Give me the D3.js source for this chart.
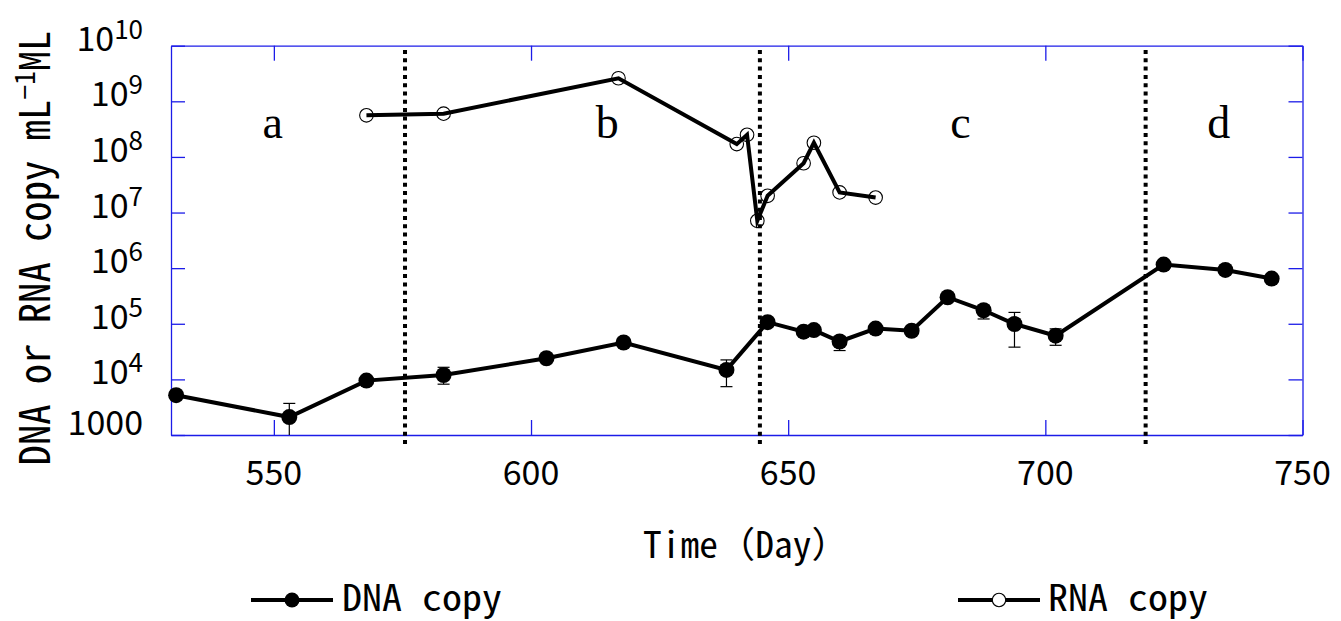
<!DOCTYPE html>
<html><head><meta charset="utf-8">
<script src="https://cdn.jsdelivr.net/npm/d3@7"></script>
<style>body{margin:0;background:#fff} svg{display:block}</style>
</head><body><svg id="c" width="1341" height="621"></svg>
<script>
// ---- data ----
const dnaDays   = [531, 553, 568, 583, 603, 618, 638, 646, 653, 655, 660, 667, 674, 681, 688, 694, 702, 723, 735, 744];
const dnaValues = [5200, 2100, 9500, 12000, 24000, 46000, 14800, 107000, 72000, 77000, 48000, 82000, 75000, 300000, 175000, 99000, 61000, 1160000, 930000, 650000];
const errDays   = [553, 583, 638, 660, 688, 694, 702, 723];
const errLow    = [1000, 8200, 7400, 33000, 122000, 38000, 41000, 960000];
const errHigh   = [3700, 16500, 22400, 59000, 215000, 160000, 81000, 1300000];
const rnaDays   = [568, 583, 617, 640, 642, 644, 646, 653, 655, 660, 667];
const rnaValues = [5.6e8, 6.0e8, 2.6e9, 1.7e8, 2.5e8, 7.1e6, 2.0e7, 7.7e7, 1.8e8, 2.3e7, 1.86e7];
const xTicks = [550, 600, 650, 700, 750];
const yTickExps = [3, 4, 5, 6, 7, 8, 9, 10];
const boundaryDays = [575.5, 644.5, 719.5];
const periodLabels = ["a", "b", "c", "d"];
const periodLabelDays = [549.8, 614.8, 683.5, 733.7];
const seriesNames = ["DNA copy", "RNA copy"];
const xTitle = "Time\uFF08Day\uFF09";

// ---- layout ----
const L = 171, R = 1302.5, T = 45.7, B = 435;
const FONT = "'Noto Sans CJK JP', 'Noto Sans', sans-serif";
const MONO = "'Noto Sans Mono CJK JP', 'Noto Sans CJK JP', 'DejaVu Sans Mono', monospace";
const AXC = "#1c1ce8";
const svg = d3.select("#c");
const x = d3.scaleLinear().domain([530, 750]).range([L, R]);
const y = d3.scaleLog().domain([1e3, 1e10]).range([B, T]);

function styleAxis(g) {
  g.selectAll("path.domain").attr("stroke", AXC).attr("stroke-width", 1.3);
  g.selectAll(".tick line").attr("stroke", AXC).attr("stroke-width", 1.3);
  g.selectAll(".tick text").remove();
}
svg.append("g").attr("transform", `translate(0,${B})`)
  .call(d3.axisBottom(x).tickValues(xTicks).tickSizeInner(-15).tickSizeOuter(0).tickFormat("")).call(styleAxis);
svg.append("g").attr("transform", `translate(0,${T})`)
  .call(d3.axisTop(x).tickValues(xTicks).tickSizeInner(-15).tickSizeOuter(0).tickFormat("")).call(styleAxis);
svg.append("g").attr("transform", `translate(${L},0)`)
  .call(d3.axisLeft(y).tickValues(yTickExps.map(e => Math.pow(10, e))).tickSizeInner(-14).tickSizeOuter(0).tickFormat("")).call(styleAxis);
svg.append("g").attr("transform", `translate(${R},0)`)
  .call(d3.axisRight(y).tickValues(yTickExps.map(e => Math.pow(10, e))).tickSizeInner(-14).tickSizeOuter(0).tickFormat("")).call(styleAxis);

// x tick labels
svg.append("g").selectAll("text").data(xTicks).join("text")
  .attr("x", d => x(d)).attr("y", 485)
  .attr("text-anchor", "middle").attr("font-family", FONT).attr("font-size", 34)
  .text(d => d);

// y tick labels
const yl = svg.append("g").selectAll("text").data(yTickExps).join("text")
  .attr("x", 143).attr("y", d => y(Math.pow(10, d)) + (d === 3 ? 0 : 5))
  .attr("text-anchor", "end").attr("font-family", FONT).attr("font-size", 34);
yl.each(function(d) {
  const t = d3.select(this);
  if (d === 3) { t.text("1000"); return; }
  t.append("tspan").text("10");
  t.append("tspan").attr("font-size", 26).attr("dy", -12).text(d);
});

// fit helper
function fit(sel, w) {
  const len = sel.node().getComputedTextLength();
  sel.attr("transform", `scale(${w / len},1)`);
}

// y title
const yt = svg.append("g").attr("transform", "translate(50,248) rotate(-90)")
  .append("text").attr("text-anchor", "middle").attr("font-family", MONO).attr("font-size", 42);
yt.append("tspan").text("DNA or RNA copy mL");
yt.append("tspan").attr("font-size", 28).attr("dy", -15).text("\u22121");
yt.append("tspan").attr("dy", 15).text("ML");
fit(yt, 435);

// x title
const xt = svg.append("g").attr("transform", "translate(643,558)")
  .append("text").attr("font-family", MONO).attr("font-size", 36).text(xTitle);
fit(xt, 206);

// boundaries
svg.append("g").selectAll("line").data(boundaryDays).join("line")
  .attr("x1", d => x(d)).attr("x2", d => x(d)).attr("y1", 50).attr("y2", 444)
  .attr("stroke", "#000").attr("stroke-width", 4).attr("stroke-dasharray", "4,4.3");

// period labels
svg.append("g").selectAll("text").data(periodLabels).join("text")
  .attr("x", (d, i) => x(periodLabelDays[i])).attr("y", 138)
  .attr("text-anchor", "middle").attr("font-family", "'Liberation Serif', 'Times New Roman', serif")
  .attr("font-size", 46).text(d => d);

const line = d3.line().x(d => x(d[0])).y(d => y(d[1]));
const dna = dnaDays.map((d, i) => [d, dnaValues[i]]);
const rna = rnaDays.map((d, i) => [d, rnaValues[i]]);

// error bars
const eg = svg.append("g").attr("stroke", "#000").attr("stroke-width", 1.2);
errDays.forEach((d, i) => {
  const cx = x(d), y1 = y(errLow[i]), y2 = y(errHigh[i]);
  eg.append("line").attr("x1", cx).attr("x2", cx).attr("y1", y1).attr("y2", y2);
  eg.append("line").attr("x1", cx - 6).attr("x2", cx + 6).attr("y1", y2).attr("y2", y2);
  if (errLow[i] > 1000) eg.append("line").attr("x1", cx - 6).attr("x2", cx + 6).attr("y1", y1).attr("y2", y1);
});

svg.append("path").attr("d", line(dna)).attr("fill", "none").attr("stroke", "#000").attr("stroke-width", 4);
svg.append("g").selectAll("circle").data(dna).join("circle")
  .attr("cx", d => x(d[0])).attr("cy", d => y(d[1])).attr("r", 8).attr("fill", "#000");

svg.append("path").attr("d", line(rna)).attr("fill", "none").attr("stroke", "#000").attr("stroke-width", 4);
svg.append("g").selectAll("circle").data(rna).join("circle")
  .attr("cx", d => x(d[0])).attr("cy", d => y(d[1])).attr("r", 6.8)
  .attr("fill", "none").attr("stroke", "#000").attr("stroke-width", 1.1);

// legend
const legX = [251, 958], legTextX = [342, 1048], legW = [160, 160];
seriesNames.forEach((name, i) => {
  const g = svg.append("g");
  g.append("line").attr("x1", legX[i]).attr("x2", legX[i] + 82).attr("y1", 600).attr("y2", 600)
    .attr("stroke", "#000").attr("stroke-width", 4);
  const c = g.append("circle").attr("cx", legX[i] + 41).attr("cy", 600);
  if (i === 0) c.attr("r", 7.5).attr("fill", "#000");
  else c.attr("r", 6.7).attr("fill", "#fff").attr("stroke", "#000").attr("stroke-width", 1.1);
  const t = svg.append("g").attr("transform", `translate(${legTextX[i]},611)`)
    .append("text").attr("font-family", MONO).attr("font-size", 37).text(name);
  fit(t, legW[i]);
});
</script></body></html>
